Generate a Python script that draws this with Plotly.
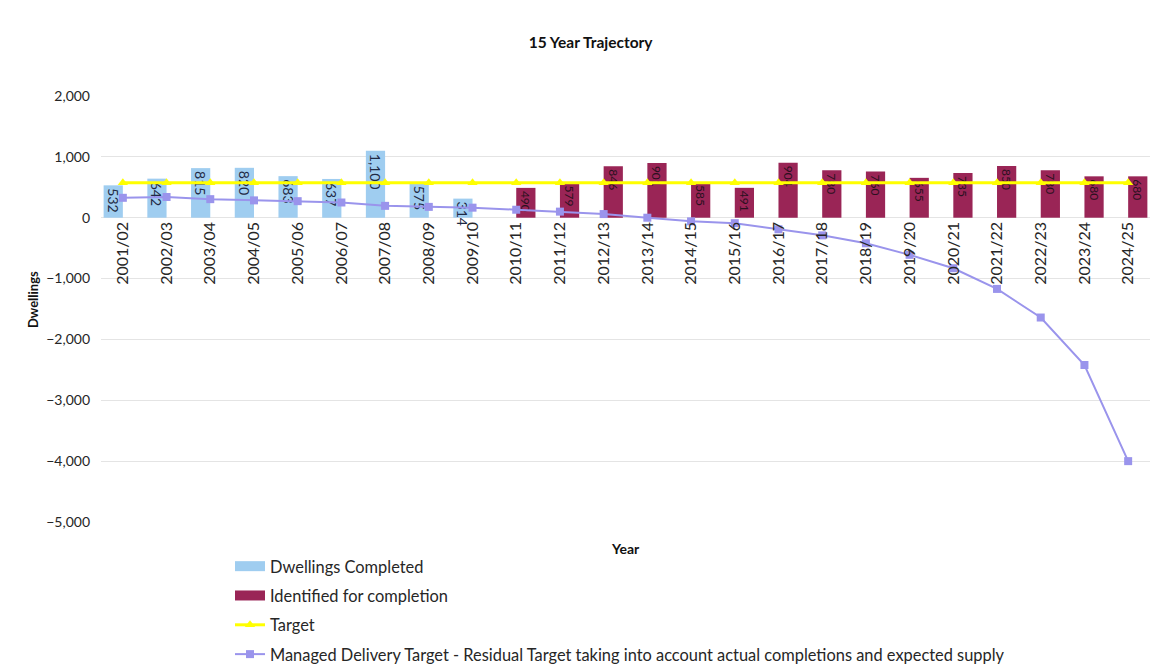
import plotly.graph_objects as go

years = ["2001/02", "2002/03", "2003/04", "2004/05", "2005/06", "2006/07", "2007/08",
         "2008/09", "2009/10", "2010/11", "2011/12", "2012/13", "2013/14", "2014/15",
         "2015/16", "2016/17", "2017/18", "2018/19", "2019/20", "2020/21", "2021/22",
         "2022/23", "2023/24", "2024/25"]

# completions recorded for the first nine years, then the identified supply
completed = [532, 642, 815, 820, 683, 637, 1100, 575, 314]
identified = [490, 579, 846, 901, 585, 491, 904, 780, 760, 655, 735, 850, 780, 680, 680]

target = [575] * len(years)

managed = [327, 340, 305, 285, 272, 250, 195, 178, 165, 131, 100, 60, 0, -60, -90,
           -190, -290, -420, -610, -830, -1170, -1640, -2420, -4000]

FONT = "Lato"
TXT = "#262626"

n_done = len(completed)
completed_full = completed + [None] * (len(years) - n_done)
identified_full = [None] * n_done + identified

BLUE = "#9fcdf0"
MAROON = "#9a2556"
YELLOW = "#ffff00"
PURPLE = "#9a94ec"

fig = go.Figure()

fig.add_trace(go.Bar(
    name="Dwellings Completed", x=years, y=completed_full,
    marker=dict(color=BLUE, line=dict(width=0)),
    text=[f"{v:,}" if v is not None else "" for v in completed_full],
    textposition="inside", insidetextanchor="end", textangle=90, constraintext="none",
    textfont=dict(family=FONT, size=14, color="#1f2a44"),
    showlegend=False,
))
fig.add_trace(go.Bar(
    name="Identified for completion", x=years, y=identified_full,
    marker=dict(color=MAROON, line=dict(width=0)),
    text=[f"{v:,}" if v is not None else "" for v in identified_full],
    textposition="inside", insidetextanchor="end", textangle=90, constraintext="none",
    textfont=dict(family=FONT, size=12, color="#2a1020"),
    showlegend=False,
))
fig.add_trace(go.Scatter(
    name="Target", x=years, y=target, mode="lines+markers",
    line=dict(color=YELLOW, width=3),
    marker=dict(symbol="triangle-up", size=9, color=YELLOW),
    showlegend=False,
))
fig.add_trace(go.Scatter(
    name="Managed Delivery Target - Residual Target taking into account actual completions and expected supply",
    x=years, y=managed, mode="lines+markers",
    line=dict(color=PURPLE, width=2),
    marker=dict(symbol="square", size=8, color=PURPLE),
    showlegend=False,
))

# legend keys: wide swatches for the bar series, line+marker keys for the lines
legend_keys = [
    ("Dwellings Completed", dict(mode="lines", line=dict(color=BLUE, width=12))),
    ("Identified for completion", dict(mode="lines", line=dict(color=MAROON, width=12))),
    ("Target", dict(mode="lines+markers", line=dict(color=YELLOW, width=3),
                    marker=dict(symbol="triangle-up", size=9, color=YELLOW))),
    ("Managed Delivery Target - Residual Target taking into account actual completions and expected supply",
     dict(mode="lines+markers", line=dict(color=PURPLE, width=2),
          marker=dict(symbol="square", size=8, color=PURPLE))),
]
for i, (label, style) in enumerate(legend_keys):
    fig.add_trace(go.Scatter(name=label, x=[None], y=[None], legendgroup=f"g{i}", **style))

fig.update_layout(
    width=1158, height=671,
    margin=dict(l=101, r=8, t=96, b=149, autoexpand=False),
    paper_bgcolor="white", plot_bgcolor="white",
    barmode="group", bargap=0.12, bargroupgap=0,
    font=dict(family=FONT, color=TXT),
    title=dict(text="<b>15 Year Trajectory</b>", x=0.51, xanchor="center",
               y=1 - 43 / 671, yanchor="middle", font=dict(size=15.5, color="#111")),
    xaxis=dict(
        categoryorder="array", categoryarray=years, range=[-0.5, len(years) - 0.5],
        anchor="free", position=5 / 7, tickangle=-90, automargin=False,
        tickfont=dict(size=16, color=TXT), showgrid=False,
        showline=False, ticks="", zeroline=False,
    ),
    yaxis=dict(
        range=[-5000, 2000], dtick=1000, tickformat=",", automargin=False,
        tickfont=dict(size=14, color=TXT), gridcolor="#e4e4e4",
        zeroline=False, showline=False, ticks="", ticklabelstandoff=10,
    ),
    legend=dict(xref="container", yref="container", x=230 / 1158, y=1 - 549 / 671,
                xanchor="left", yanchor="top", orientation="v",
                font=dict(size=16.4, color=TXT), tracegroupgap=5,
                traceorder="grouped", itemwidth=30),
    annotations=[
        dict(text="<b>Year</b>", x=0.5, y=-26 / 426, xref="paper", yref="paper",
             xanchor="center", yanchor="middle", showarrow=False,
             font=dict(size=14, color="#111")),
        dict(text="<b>Dwellings</b>", x=-68 / 1050, y=(522 - 300) / 426,
             xref="paper", yref="paper", xanchor="center", yanchor="middle",
             textangle=-90, showarrow=False, font=dict(size=13, color="#111")),
    ],
)

fig.write_html("out.html")
